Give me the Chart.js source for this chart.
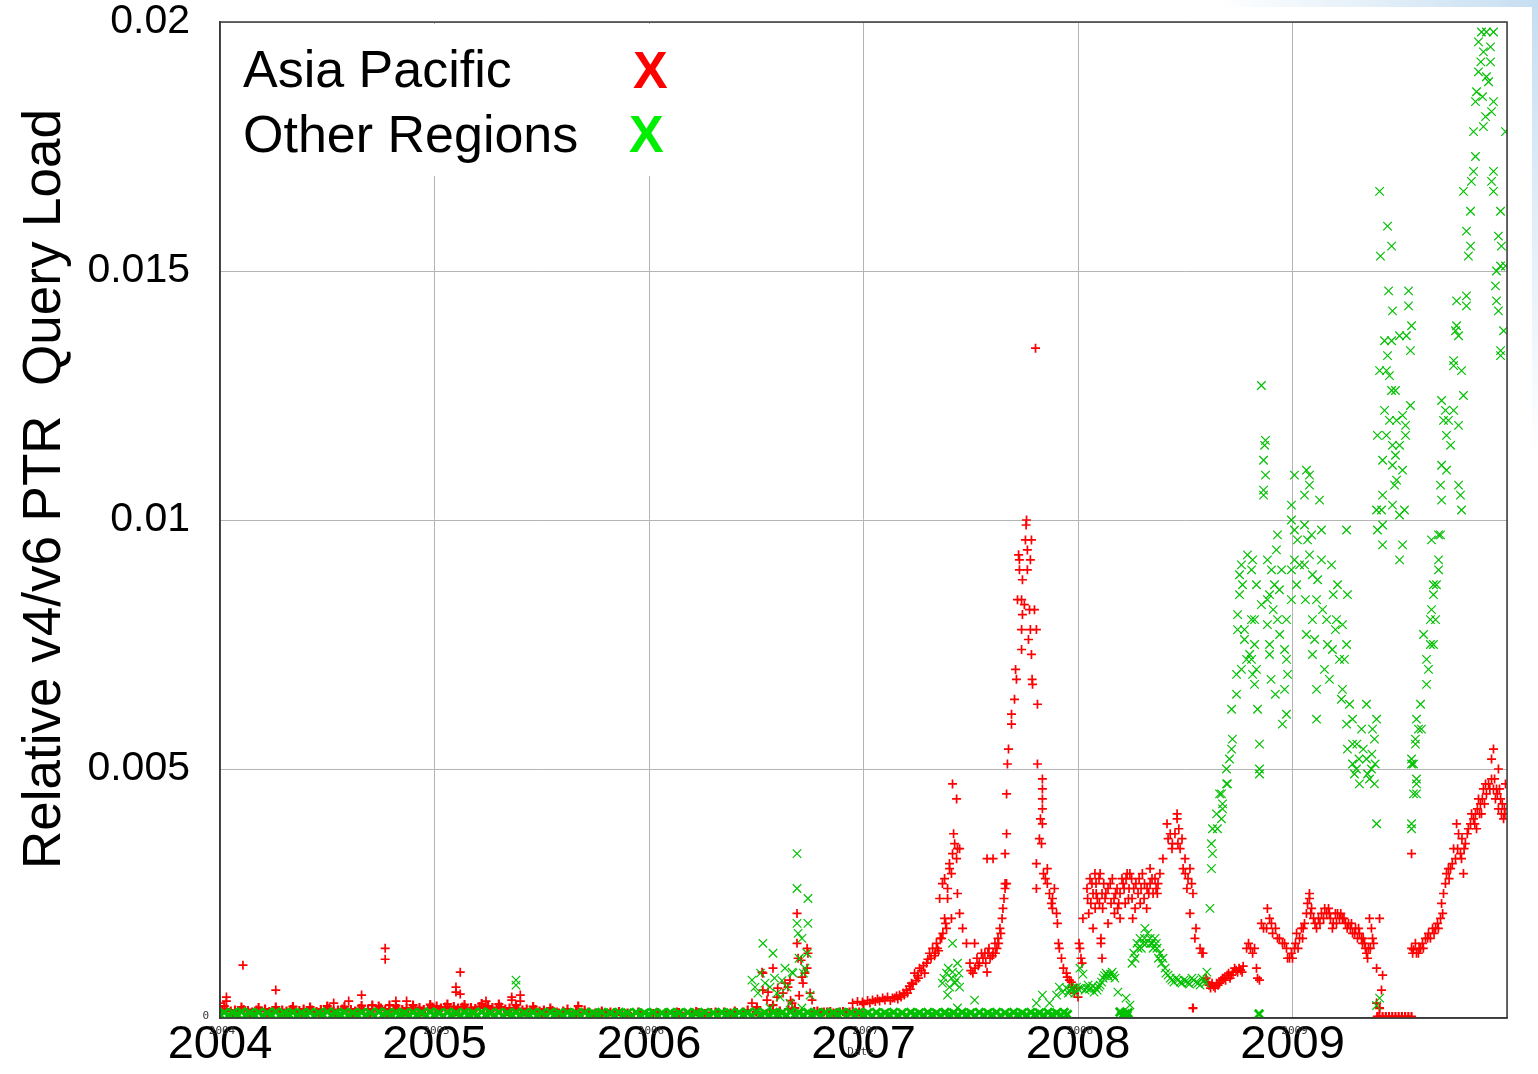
<!DOCTYPE html>
<html>
<head>
<meta charset="utf-8">
<script src="https://cdn.jsdelivr.net/npm/chart.js@4.4.1/dist/chart.umd.min.js"></script>
<style>
html,body{margin:0;padding:0;background:#fff;}
#wrap{position:relative;width:1538px;height:1074px;overflow:hidden;}
#glowTop{position:absolute;top:0;right:0;width:320px;height:7px;background:linear-gradient(to right,rgba(200,224,242,0),#c6def1);}
#glowRight{position:absolute;top:0;right:0;width:6px;height:460px;background:linear-gradient(to bottom,#c6def1,rgba(200,224,242,0));}
canvas{position:absolute;left:0;top:0;}
</style>
</head>
<body>
<div id="wrap"><div id="glowTop"></div><div id="glowRight"></div><canvas id="c" width="1538" height="1074"></canvas></div>
<script>
// ---------- axis ticks ----------
const xTickYears = [2004, 2005, 2006, 2007, 2008, 2009, 2010];
const xTickLabels = ['2004', '2005', '2006', '2007', '2008', '2009', ''];
const yTickValues = [0, 0.005, 0.01, 0.015, 0.02];
const yTickLabels = ['', '0.005', '0.01', '0.015', '0.02'];
const seriesNames = ['Asia Pacific', 'Other Regions'];
const yTitle = 'Relative v4/v6 PTR  Query Load';

// ---------- Asia Pacific  [year, relative load] ----------
const apBase = [
[2004.00,0.0003],[2004.01,0.00015],[2004.03,0.00018],[2004.05,0.00014],[2004.07,0.00016],[2004.09,0.00013],[2004.11,0.00017],[2004.13,0.00015],[2004.15,0.00012],[2004.17,0.00016],
[2004.19,0.00014],[2004.21,0.00018],[2004.23,0.00013],[2004.25,0.00015],[2004.27,0.00012],[2004.29,0.00016],[2004.31,0.00014],[2004.33,0.00017],[2004.35,0.00013],[2004.37,0.00015],
[2004.39,0.00018],[2004.41,0.00014],[2004.43,0.00016],[2004.45,0.00013],[2004.47,0.00017],[2004.49,0.00015],[2004.51,0.00019],[2004.53,0.00014],[2004.55,0.00016],[2004.57,0.00018],
[2004.59,0.00015],[2004.61,0.00017],[2004.63,0.00014],[2004.65,0.00019],[2004.67,0.00016],[2004.69,0.00018],[2004.71,0.00015],[2004.73,0.00017],[2004.75,0.0002],[2004.77,0.00016],
[2004.79,0.00018],[2004.81,0.00015],[2004.83,0.00019],[2004.85,0.00017],[2004.87,0.0002],[2004.89,0.00016],[2004.91,0.00018],[2004.93,0.00021],[2004.95,0.00017],[2004.97,0.00019],
[2004.99,0.00022],[2005.01,0.00024],[2005.03,0.0002],[2005.05,0.00022],[2005.07,0.00019],[2005.09,0.00023],[2005.11,0.0002],[2005.13,0.00022],[2005.15,0.00018],[2005.17,0.00021],
[2005.19,0.00019],[2005.21,0.00023],[2005.23,0.0002],[2005.25,0.00024],[2005.27,0.00021],[2005.29,0.00019],[2005.31,0.00022],[2005.33,0.00018],[2005.35,0.0002],[2005.37,0.00017],
[2005.39,0.00019],[2005.41,0.00016],[2005.43,0.00018],[2005.45,0.00015],[2005.47,0.00017],[2005.49,0.00014],[2005.51,0.00016],[2005.53,0.00013],[2005.55,0.00015],[2005.57,0.00012],
[2005.60,0.00014],[2005.63,0.00011],[2005.66,0.00013],[2005.69,0.0001],[2005.72,0.00012],[2005.75,0.0001],[2005.78,0.00011],[2005.81,0.00009],[2005.84,0.00011],[2005.87,0.00009],
[2005.90,0.0001],[2005.93,0.00008],[2005.96,0.0001],[2005.99,0.00008],[2006.02,0.00009],[2006.05,0.00008],[2006.08,0.0001],[2006.11,0.00009],[2006.14,0.00011],[2006.17,0.00009],
[2006.20,0.0001],[2006.23,0.00011],[2006.26,0.00009],[2006.29,0.00011],[2006.32,0.0001],[2006.35,0.00012],[2006.38,0.0001],[2006.41,0.00011],[2006.44,0.00012]
];
const apBaseSpread = [
[2004.02,0.00024],[2004.06,0.00009],[2004.10,0.00022],[2004.14,0.0001],[2004.18,0.00021],[2004.22,0.00009],[2004.26,0.00022],[2004.30,0.0001],[2004.34,0.00023],[2004.38,0.0001],
[2004.42,0.00022],[2004.46,0.00011],[2004.50,0.00024],[2004.54,0.0001],[2004.58,0.00023],[2004.62,0.00011],[2004.66,0.00025],[2004.70,0.0001],[2004.74,0.00024],[2004.78,0.00011],
[2004.82,0.00025],[2004.86,0.00012],[2004.90,0.00026],[2004.94,0.00012],[2004.98,0.00027],[2005.02,0.00014],[2005.06,0.00028],[2005.10,0.00013],[2005.14,0.00027],[2005.18,0.00014],
[2005.22,0.00029],[2005.26,0.00014],[2005.30,0.00028],[2005.34,0.00013],[2005.38,0.00026],[2005.42,0.00012],[2005.46,0.00023],[2005.50,0.00011],[2005.54,0.0002],[2005.58,0.0001],
[2005.62,0.00018],[2005.66,0.00009],[2005.70,0.00016],[2005.74,0.00008],[2005.78,0.00014],[2005.82,0.00012],[2005.86,0.00013],[2005.95,0.00012],[2006.04,0.00011],[2006.13,0.00012],
[2006.22,0.00013],[2006.31,0.00012],[2006.40,0.00014]
];
const apEarlyOutliers = [
[2004.107,0.00106],[2004.26,0.00056],[2004.03,0.00042],[2004.03,0.00034],[2004.53,0.0003],[2004.60,0.00034],[2004.66,0.00046],[2004.71,0.00026],
[2004.77,0.0014],[2004.77,0.00118],[2004.79,0.00026],[2004.82,0.00034],[2004.87,0.00034],[2005.10,0.00062],[2005.10,0.00052],[2005.12,0.00048],
[2005.12,0.00092],[2005.24,0.00034],[2005.36,0.00042],[2005.36,0.00036],[2005.40,0.00046],[2005.40,0.00034],[2005.67,0.00024]
];
const ap2006 = [
[2006.46,0.00016],[2006.48,0.0003],[2006.50,0.00012],[2006.503,0.00022],[2006.527,0.00092],[2006.531,0.0009],[2006.531,0.00056],[2006.55,0.00036],[2006.555,0.00052],
[2006.564,0.00016],[2006.578,0.001],[2006.578,0.00026],[2006.597,0.00042],[2006.60,0.0006],[2006.61,0.00014],[2006.625,0.0005],[2006.634,0.0007],[2006.648,0.00062],
[2006.65,0.00018],[2006.657,0.00076],[2006.66,0.00035],[2006.667,0.0003],[2006.68,0.0002],[2006.69,0.0021],[2006.69,0.0015],[2006.695,0.0012],[2006.70,0.00045],
[2006.709,0.00116],[2006.713,0.00082],[2006.718,0.0007],[2006.727,0.0009],[2006.737,0.0014],[2006.741,0.0013],[2006.737,0.001],[2006.751,0.0005],[2006.76,0.00036],
[2006.77,0.00013],[2006.80,0.00011],[2006.83,0.00012],[2006.86,0.0001],[2006.89,0.00012],[2006.92,0.00011],[2006.95,0.00013],[2006.98,0.00012],
[2006.785,0.00014],[2006.815,0.00012],[2006.845,0.00013],[2006.875,0.00011],[2006.905,0.00013],[2006.935,0.00012]
];
const ap2007 = [
[2006.949,0.0003],[2006.972,0.00033],[2006.995,0.00032],[2007.019,0.00035],[2007.042,0.00036],[2007.065,0.00038],[2007.089,0.0004],[2007.112,0.00042],[2007.135,0.0004],
[2007.154,0.00044],[2007.168,0.00046],[2007.186,0.0005],[2007.20,0.00056],[2007.214,0.00064],[2007.224,0.0007],[2007.238,0.0009],[2007.252,0.00085],[2007.261,0.001],
[2007.28,0.00105],[2007.294,0.0011],[2007.308,0.0013],[2007.322,0.0014],[2007.331,0.00125],[2007.34,0.0015],[2007.345,0.0014],[2007.364,0.0016],[2007.378,0.002],
[2007.387,0.0018],[2007.41,0.002],[2007.368,0.0027],[2007.392,0.0026],[2007.392,0.0024],[2007.401,0.003],[2007.41,0.0029],[2007.415,0.0033],[2007.415,0.0047],
[2007.434,0.0032],[2007.434,0.0044],[2007.438,0.0034],[2007.438,0.0025],[2007.448,0.0034],[2007.448,0.0021],[2007.462,0.0018],[2007.48,0.0015],[2007.518,0.0015],
[2007.401,0.0031],[2007.425,0.0035],[2007.378,0.0028],[2007.355,0.0024],[2007.42,0.0037],
[2007.0,0.00028],[2007.03,0.0003],[2007.055,0.00033],[2007.075,0.00034],[2007.10,0.00036],[2007.125,0.00035],[2007.145,0.0004],[2007.16,0.00038],[2007.175,0.00042],
[2007.19,0.00046],[2007.205,0.0005],[2007.218,0.00058],[2007.23,0.00068],[2007.245,0.00075],[2007.256,0.0008],[2007.27,0.00095],[2007.285,0.0009],[2007.30,0.00118],
[2007.315,0.0012],[2007.335,0.0013],[2007.35,0.00135],[2007.358,0.0016],[2007.37,0.0017],[2007.383,0.0019],
[2007.496,0.0011],[2007.51,0.0009],[2007.529,0.0012],[2007.54,0.0011],[2007.557,0.0012],[2007.566,0.0013],[2007.576,0.00092],[2007.58,0.0013],[2007.59,0.0012],
[2007.604,0.0013],[2007.613,0.0015],[2007.622,0.0014],[2007.627,0.0016],[2007.636,0.0018],[2007.646,0.002],[2007.65,0.0022],[2007.66,0.0026],[2007.66,0.0027],
[2007.50,0.00095],[2007.52,0.001],[2007.535,0.00105],[2007.55,0.0013],[2007.57,0.0011],[2007.585,0.0014],[2007.60,0.00125],[2007.615,0.0013],[2007.63,0.0015],
[2007.64,0.0017],[2007.655,0.0024],
[2007.576,0.0032],[2007.604,0.0032],[2007.66,0.0033]
];
const apPeak2007 = [
[2007.667,0.0027],[2007.667,0.0037],[2007.667,0.0045],[2007.671,0.0051],[2007.676,0.0054],[2007.69,0.0059],[2007.69,0.0061],[2007.704,0.0064],[2007.709,0.007],
[2007.713,0.0068],[2007.718,0.0084],[2007.723,0.0093],[2007.727,0.009],[2007.727,0.0092],[2007.737,0.0074],[2007.737,0.0078],[2007.737,0.0084],[2007.741,0.0081],
[2007.741,0.0088],[2007.75,0.0083],[2007.755,0.0096],[2007.76,0.01],[2007.758,0.0099],[2007.764,0.009],[2007.764,0.0094],[2007.769,0.0076],[2007.774,0.0082],
[2007.778,0.0078],[2007.778,0.0092],[2007.783,0.0073],[2007.783,0.0096],[2007.788,0.0067],[2007.786,0.0068],[2007.797,0.0082],[2007.802,0.01345],[2007.806,0.0078],
[2007.811,0.0063],[2007.811,0.0051],[2007.82,0.0036],[2007.825,0.004],[2007.83,0.0035],[2007.834,0.0048],[2007.834,0.0046],[2007.834,0.0044],[2007.834,0.0042],
[2007.834,0.0039],[2007.806,0.0031],[2007.806,0.0026],[2007.839,0.0029],[2007.848,0.0028],[2007.857,0.0027],[2007.857,0.003],[2007.867,0.0025],[2007.876,0.0023],
[2007.881,0.0024],[2007.881,0.0022],[2007.89,0.0026],[2007.90,0.0021],[2007.904,0.0019],[2007.909,0.0015],[2007.913,0.0014],[2007.923,0.0012],[2007.932,0.001],
[2007.946,0.0009],[2007.95,0.00082],[2007.96,0.00076],[2007.969,0.00072],[2007.974,0.00062],[2007.983,0.0005],[2007.993,0.0006],[2008.0,0.00042]
];
const ap2008 = [
[2008.005,0.0015],[2008.009,0.0014],[2008.014,0.0012],[2008.023,0.002],[2008.019,0.0011],[2008.042,0.0026],[2008.056,0.0028],[2008.06,0.0023],[2008.07,0.0025],
[2008.07,0.0018],[2008.079,0.0029],[2008.084,0.0027],[2008.09,0.0024],[2008.098,0.0028],[2008.103,0.0029],[2008.107,0.0016],[2008.107,0.0015],[2008.112,0.0025],
[2008.112,0.0012],[2008.12,0.0027],[2008.126,0.0024],[2008.14,0.0026],[2008.14,0.0019],[2008.154,0.0023],[2008.16,0.0028],[2008.168,0.0024],[2008.17,0.0021],
[2008.182,0.0026],[2008.196,0.0025],[2008.196,0.002],[2008.205,0.0028],[2008.21,0.0027],[2008.224,0.0028],[2008.229,0.0029],[2008.238,0.0026],[2008.242,0.0029],
[2008.25,0.0028],[2008.252,0.0024],[2008.266,0.0022],[2008.27,0.0027],[2008.28,0.0025],[2008.294,0.0026],[2008.30,0.0029],[2008.308,0.0024],[2008.322,0.0026],
[2008.336,0.0027],[2008.336,0.003],[2008.35,0.0025],[2008.359,0.0028],[2008.364,0.0026],[2008.373,0.0027],
[2008.045,0.0024],[2008.065,0.0027],[2008.085,0.0025],[2008.10,0.0023],[2008.13,0.0025],[2008.15,0.0027],[2008.175,0.0025],[2008.19,0.0023],[2008.215,0.0026],
[2008.235,0.0024],[2008.26,0.0026],[2008.285,0.0028],[2008.31,0.0027],[2008.33,0.0025],[2008.345,0.0028],[2008.37,0.0025],
[2008.05,0.0021],[2008.115,0.0022],[2008.185,0.0022],[2008.255,0.002],[2008.32,0.0022],[2008.08,0.0022],[2008.22,0.0023],[2008.29,0.0023],
[2008.382,0.0029],[2008.396,0.0032],[2008.415,0.0039],[2008.42,0.0036],[2008.438,0.0034],[2008.44,0.0035],[2008.452,0.0037],[2008.462,0.0041],[2008.462,0.004],
[2008.466,0.0035],[2008.476,0.0034],[2008.485,0.0036],[2008.49,0.003],[2008.499,0.0032],[2008.508,0.0026],[2008.513,0.0028],[2008.522,0.003],[2008.522,0.0021],
[2008.536,0.0025],[2008.536,0.0002],[2008.545,0.0016],[2008.55,0.0018],[2008.569,0.0014],[2008.578,0.0013],[2008.583,0.0013],
[2008.43,0.0037],[2008.47,0.0038],[2008.50,0.0029],[2008.53,0.0027],
[2008.597,0.0008],[2008.611,0.00066],[2008.625,0.0007],[2008.639,0.0006],[2008.653,0.00066],[2008.667,0.00076],[2008.681,0.0008],[2008.695,0.00086],[2008.709,0.0008],
[2008.723,0.00092],[2008.737,0.00096],[2008.751,0.001],[2008.765,0.00092],
[2008.604,0.00072],[2008.618,0.0006],[2008.632,0.00064],[2008.646,0.0007],[2008.66,0.0007],[2008.674,0.0008],[2008.688,0.00076],[2008.702,0.0009],[2008.716,0.00086],
[2008.73,0.001],[2008.744,0.00092],[2008.758,0.00096],[2008.77,0.00104],
[2008.786,0.0014],[2008.795,0.0015],[2008.804,0.0014],[2008.814,0.0013],[2008.823,0.0014],[2008.832,0.001],[2008.837,0.0008],[2008.846,0.00076],[2008.855,0.0019],
[2008.865,0.0018],[2008.879,0.0018],[2008.883,0.0022],[2008.893,0.002],[2008.902,0.0019],[2008.907,0.0017],[2008.921,0.0018],[2008.93,0.0016],[2008.939,0.0016],
[2008.953,0.0015],[2008.963,0.0015],[2008.972,0.0014],[2008.977,0.0012],[2008.986,0.0012],[2008.995,0.0013]
];
const ap2009 = [
[2009.009,0.0014],[2009.019,0.0017],[2009.033,0.0016],[2009.042,0.0018],[2009.047,0.0016],[2009.056,0.0019],[2009.065,0.0021],[2009.079,0.0024],[2009.079,0.0025],
[2009.089,0.0022],[2009.098,0.002],[2009.112,0.0018],[2009.121,0.002],[2009.135,0.0021],[2009.145,0.002],[2009.159,0.0021],[2009.168,0.0022],[2009.177,0.002],
[2009.186,0.0018],[2009.20,0.0021],[2009.21,0.0021],[2009.219,0.002],[2009.233,0.002],[2009.247,0.0019],[2009.261,0.0019],[2009.27,0.0018],[2009.28,0.0017],
[2009.294,0.0018],[2009.303,0.0016],[2009.312,0.0017],[2009.322,0.0016],[2009.326,0.0015],[2009.336,0.0015],[2009.345,0.0013],[2009.354,0.0014],[2009.359,0.002],
[2009.368,0.0018],[2009.373,0.0016],[2009.378,0.0015],[2009.406,0.002],
[2009.0,0.0012],[2009.014,0.0015],[2009.026,0.0014],[2009.05,0.0018],[2009.07,0.0023],[2009.085,0.0021],[2009.105,0.0019],[2009.128,0.0019],[2009.15,0.0022],
[2009.172,0.0021],[2009.19,0.0019],[2009.205,0.0019],[2009.225,0.0021],[2009.24,0.002],[2009.255,0.0018],[2009.275,0.0019],[2009.29,0.0017],[2009.308,0.0018],
[2009.33,0.0016],[2009.34,0.0014],[2009.35,0.0012],[2009.363,0.0014],
[2009.392,0.001],[2009.42,0.00086],[2009.415,0.00056],[2009.392,0.0003],[2009.406,0.0002],
[2009.395,0.00003],[2009.405,0.00003],[2009.42,0.00003],[2009.435,0.00003],[2009.45,0.00003],[2009.465,0.00003],[2009.48,0.00003],[2009.495,0.00003],[2009.51,0.00003],
[2009.525,0.00003],[2009.54,0.00003],[2009.555,0.00003],
[2009.555,0.0033],
[2009.555,0.0014],[2009.564,0.00137],[2009.573,0.0015],[2009.578,0.0013],[2009.587,0.0013],[2009.597,0.0014],[2009.606,0.0015],[2009.62,0.0016],[2009.634,0.0017],
[2009.643,0.0016],[2009.653,0.0018],[2009.667,0.0018],[2009.676,0.0019],[2009.69,0.002],[2009.695,0.0023],
[2009.56,0.0013],[2009.59,0.0014],[2009.61,0.0014],[2009.63,0.0016],[2009.66,0.0017],[2009.68,0.0018],[2009.70,0.0021],
[2009.704,0.0025],[2009.713,0.0027],[2009.718,0.0029],[2009.727,0.003],[2009.737,0.003],[2009.751,0.0034],[2009.76,0.0032],[2009.765,0.0039],[2009.774,0.0037],
[2009.783,0.0033],[2009.788,0.0032],[2009.797,0.0029],[2009.806,0.0035],[2009.82,0.0038],[2009.83,0.0039],[2009.844,0.004],[2009.853,0.0041],[2009.858,0.0038],
[2009.867,0.0044],[2009.872,0.0041],[2009.881,0.0041],[2009.89,0.0046],[2009.895,0.0043],[2009.904,0.0045],[2009.914,0.0047],[2009.928,0.0048],[2009.928,0.0052],
[2009.937,0.0054],[2009.937,0.0046],[2009.946,0.0044],[2009.951,0.0046],[2009.96,0.005],[2009.96,0.0042],[2009.97,0.0044],[2009.974,0.0041],[2009.984,0.004],
[2009.988,0.0042],[2009.993,0.0047],
[2009.73,0.0028],[2009.745,0.0031],[2009.77,0.0034],[2009.79,0.0036],[2009.80,0.0034],[2009.815,0.0037],[2009.835,0.0041],[2009.85,0.0039],[2009.862,0.0042],
[2009.876,0.0043],[2009.885,0.0044],[2009.90,0.0047],[2009.92,0.0046],[2009.942,0.0048],[2009.955,0.0045],[2009.965,0.0046],[2009.978,0.0043],[2009.99,0.0041]
];

// ---------- Other Regions  [year, relative load] ----------
const otBase = [
[2004.00,0.00007],[2004.04,0.00006],[2004.08,0.00008],[2004.12,0.00006],[2004.16,0.00007],[2004.20,0.00005],[2004.24,0.00007],[2004.28,0.00006],[2004.32,0.00008],[2004.36,0.00006],
[2004.40,0.00007],[2004.44,0.00005],[2004.48,0.00007],[2004.52,0.00006],[2004.56,0.00008],[2004.60,0.00006],[2004.64,0.00007],[2004.68,0.00006],[2004.72,0.00005],[2004.76,0.00007],
[2004.80,0.00006],[2004.84,0.00008],[2004.88,0.00006],[2004.92,0.00007],[2004.96,0.00006],[2005.00,0.00007],[2005.04,0.00005],[2005.08,0.00007],[2005.12,0.00006],[2005.16,0.00008],
[2005.20,0.00006],[2005.24,0.00007],[2005.28,0.00006],[2005.32,0.00005],[2005.36,0.00007],[2005.40,0.00006],[2005.44,0.00007],[2005.48,0.00006],[2005.52,0.00005],[2005.56,0.00007],
[2005.60,0.00006],[2005.64,0.00007],[2005.68,0.00005],[2005.72,0.00006],[2005.76,0.00007],[2005.80,0.00005],[2005.84,0.00006],[2005.88,0.00007],[2005.92,0.00005],[2005.96,0.00006],
[2006.00,0.00007],[2006.04,0.00005],[2006.08,0.00006],[2006.12,0.00007],[2006.16,0.00005],[2006.20,0.00006],[2006.24,0.00007],[2006.28,0.00005],[2006.32,0.00006],[2006.36,0.00007],
[2006.40,0.00006],[2006.44,0.00007],[2006.48,0.00005],[2006.52,0.00007],[2006.56,0.00006],[2006.60,0.00008],[2006.64,0.00006],[2006.68,0.00007],[2006.72,0.00006],[2006.76,0.00007],
[2006.80,0.00005],[2006.84,0.00006],[2006.88,0.00007],[2006.92,0.00005],[2006.96,0.00006],[2007.00,0.00007],[2007.04,0.00005],[2007.08,0.00006],[2007.12,0.00007],[2007.16,0.00006],
[2007.20,0.00005],[2007.24,0.00007],[2007.28,0.00006],[2007.32,0.00007],[2007.36,0.00005],[2007.40,0.00007],[2007.44,0.00006],[2007.48,0.00007],[2007.52,0.00005],[2007.56,0.00006],
[2007.60,0.00007],[2007.64,0.00005],[2007.68,0.00006],[2007.72,0.00007],[2007.76,0.00006],[2007.80,0.00007],[2007.84,0.00006],[2007.88,0.00007],[2007.92,0.00006],[2007.95,0.00007]
];
const otBaseSpread = [
[2004.02,0.00011],[2004.06,0.0001],[2004.10,0.00012],[2004.14,0.0001],[2004.18,0.00011],[2004.22,0.0001],[2004.26,0.00012],[2004.30,0.0001],[2004.34,0.00011],[2004.38,0.0001],
[2004.42,0.00011],[2004.46,0.0001],[2004.50,0.00012],[2004.54,0.0001],[2004.58,0.00011],[2004.62,0.0001],[2004.66,0.00011],[2004.70,0.0001],[2004.74,0.00012],[2004.78,0.0001],
[2004.82,0.00011],[2004.86,0.0001],[2004.90,0.00011],[2004.94,0.0001],[2004.98,0.00012],[2005.02,0.0001],[2005.06,0.00011],[2005.10,0.0001],[2005.14,0.00011],[2005.18,0.0001],
[2005.22,0.00012],[2005.26,0.0001],[2005.30,0.00011],[2005.34,0.0001],[2005.38,0.00011],[2005.42,0.0001],[2005.46,0.00011],[2005.50,0.0001],[2005.54,0.00011],[2005.58,0.0001],
[2005.62,0.00011],[2005.66,0.0001],[2005.70,0.00011],[2005.74,0.0001],[2005.78,0.00011],[2005.82,0.0001],[2005.86,0.00011],[2005.90,0.0001],[2005.94,0.00011],[2005.98,0.0001],
[2006.02,0.00011],[2006.06,0.0001],[2006.10,0.00011],[2006.14,0.0001],[2006.18,0.00011],[2006.22,0.0001],[2006.26,0.00011],[2006.30,0.0001],[2006.34,0.00011],[2006.38,0.0001],
[2006.42,0.00011],[2006.46,0.0001],[2006.50,0.00012],[2006.54,0.0001],[2006.58,0.00011],[2006.62,0.0001],[2006.66,0.00012],[2006.70,0.0001],[2006.74,0.00011],[2006.78,0.0001],
[2006.82,0.00011],[2006.86,0.0001],[2006.90,0.00011],[2006.94,0.0001],[2006.98,0.00011],[2007.02,0.0001],[2007.06,0.00011],[2007.10,0.0001],[2007.14,0.00011],[2007.18,0.0001],
[2007.22,0.00011],[2007.26,0.0001],[2007.30,0.00011],[2007.34,0.0001],[2007.38,0.00011],[2007.42,0.0001],[2007.46,0.00011],[2007.50,0.0001],[2007.54,0.00011],[2007.58,0.0001],
[2007.62,0.00011],[2007.66,0.0001],[2007.70,0.00011],[2007.74,0.0001],[2007.78,0.00011],[2007.82,0.0001],[2007.86,0.00011],[2007.90,0.0001],[2007.935,0.00011]
];
const otEarly = [
[2005.38,0.00076],[2005.38,0.00066],
[2006.48,0.00076],[2006.494,0.00062],[2006.508,0.0005],[2006.531,0.0015],[2006.541,0.0007],[2006.564,0.00062],[2006.564,0.0002],[2006.578,0.0013],[2006.597,0.0005],
[2006.611,0.00042],[2006.634,0.001],[2006.643,0.00062],[2006.657,0.0003],[2006.667,0.00092],[2006.671,0.0009],[2006.69,0.0033],[2006.69,0.0026],[2006.741,0.0024],
[2006.69,0.0019],[2006.741,0.0019],[2006.695,0.0017],[2006.713,0.0016],[2006.737,0.0013],[2006.727,0.001],[2006.751,0.00046],[2006.713,0.0002],
[2006.52,0.0009],[2006.585,0.0008],[2006.62,0.00075],[2006.70,0.0012],[2006.72,0.0009],
[2007.368,0.0007],[2007.387,0.0009],[2007.415,0.00092],[2007.438,0.0011],[2007.415,0.0015],[2007.401,0.00062],[2007.392,0.00046],[2007.434,0.00076],[2007.448,0.00062],
[2007.378,0.0001],[2007.518,0.00036],[2007.438,0.0002],[2007.41,0.0008],[2007.375,0.0008],[2007.395,0.001],[2007.425,0.0007],[2007.445,0.0009],
[2007.806,0.0003],[2007.834,0.00046],[2007.867,0.0003],[2007.90,0.00046],[2007.913,0.00062],[2007.928,0.00052],[2007.946,0.0006],[2007.96,0.00056],[2007.974,0.0006],
[2007.993,0.00062],[2008.009,0.001],[2008.023,0.00088],
[2007.955,0.0005],[2007.97,0.00058],[2007.985,0.0005],[2008.0,0.00058],[2008.015,0.0006]
];
const ot2008 = [
[2008.033,0.00056],[2008.047,0.00066],[2008.061,0.0006],[2008.075,0.00052],[2008.089,0.00056],[2008.103,0.00066],[2008.117,0.0008],[2008.131,0.0009],[2008.145,0.00082],
[2008.159,0.00092],[2008.172,0.0008],[2008.186,0.00052],[2008.196,0.00012],[2008.214,0.00006],[2008.233,0.0001],[2008.242,0.00026],[2008.224,0.0004],
[2008.205,0.00005],[2008.22,0.00008],[2008.228,0.00005],
[2008.04,0.0006],[2008.054,0.00058],[2008.068,0.00064],[2008.082,0.0006],[2008.096,0.00062],[2008.11,0.00072],[2008.124,0.00085],[2008.138,0.00086],[2008.152,0.00088],
[2008.166,0.00085],
[2008.252,0.0011],[2008.266,0.0012],[2008.28,0.0014],[2008.289,0.0016],[2008.303,0.0015],[2008.312,0.0018],[2008.317,0.0015],[2008.336,0.0016],[2008.34,0.0015],
[2008.35,0.0014],[2008.359,0.0016],[2008.368,0.0014],[2008.382,0.0013],[2008.396,0.0012],[2008.406,0.001],[2008.42,0.00086],[2008.438,0.00076],[2008.457,0.0008],
[2008.476,0.00072],[2008.494,0.00076],[2008.513,0.0007],[2008.531,0.0008],[2008.55,0.00072],[2008.569,0.00066],[2008.587,0.00076],[2008.601,0.00092],[2008.615,0.0022],
[2008.26,0.0013],[2008.275,0.0015],[2008.295,0.0014],[2008.31,0.0016],[2008.325,0.0017],[2008.345,0.0015],[2008.365,0.0015],[2008.375,0.0012],[2008.39,0.0011],
[2008.41,0.0009],[2008.43,0.0008],[2008.447,0.00072],[2008.466,0.00076],[2008.485,0.0007],[2008.504,0.00074],[2008.52,0.00068],[2008.54,0.00076],[2008.56,0.0007],
[2008.578,0.0008],[2008.593,0.0007],
[2008.844,0.00008],
[2008.622,0.003],[2008.627,0.0033],[2008.622,0.0035],[2008.627,0.0038],[2008.65,0.0038],[2008.669,0.004],[2008.646,0.0041],[2008.674,0.0042],[2008.669,0.0045],
[2008.697,0.0047],[2008.66,0.0045],[2008.674,0.0043],[2008.692,0.0047],[2008.692,0.005],[2008.706,0.0052],[2008.716,0.0054],[2008.72,0.0056],[2008.846,0.0055],
[2008.846,0.005],[2008.846,0.0049],[2008.716,0.0062],[2008.739,0.0065],[2008.739,0.0069],[2008.762,0.007],[2008.786,0.0072],[2008.80,0.0073],[2008.809,0.0072],
[2008.832,0.007],[2008.823,0.0067],[2008.814,0.0069],[2008.837,0.0062],[2008.776,0.0076],[2008.823,0.0075],[2008.744,0.0078],[2008.776,0.0078],[2008.809,0.008],
[2008.823,0.008],[2008.744,0.0081],[2008.753,0.0085],[2008.832,0.0087],[2008.767,0.0087],[2008.753,0.0089],[2008.762,0.0091],[2008.79,0.0093],[2008.809,0.009],
[2008.814,0.0092],
[2008.855,0.0127],[2008.874,0.0116],[2008.870,0.0115],[2008.865,0.0112],[2008.874,0.0109],[2008.865,0.0105],[2008.865,0.0106],
[2008.855,0.0083],[2008.883,0.0084],[2008.893,0.0085],[2008.916,0.0087],[2008.925,0.0094],[2008.93,0.0097],[2008.883,0.0092],[2008.902,0.009],[2008.949,0.009],
[2008.939,0.0086],[2008.93,0.008],[2008.972,0.008],[2008.883,0.0079],[2008.893,0.0075],[2008.893,0.0073],[2008.963,0.0074],[2008.972,0.0072],[2008.977,0.0069],
[2008.963,0.0066],[2008.953,0.0059],[2008.972,0.0061],[2008.995,0.0084],[2008.995,0.009],[2008.90,0.0068],[2008.92,0.0065],[2008.94,0.0077],[2008.91,0.0082]
];
const ot2009 = [
[2009.019,0.0087],[2009.009,0.0092],[2009.033,0.0091],[2009.023,0.0096],[2008.995,0.01],[2009.009,0.0098],[2008.995,0.0103],[2009.009,0.0109],[2009.056,0.0105],
[2009.065,0.011],[2009.079,0.0109],[2009.079,0.0107],[2009.126,0.0104],[2009.056,0.0099],[2009.089,0.0097],[2009.07,0.0096],[2009.056,0.0091],[2009.135,0.0098],
[2009.252,0.0098],[2009.079,0.0093],[2009.135,0.0092],[2009.093,0.0089],[2009.117,0.0088],[2009.182,0.0091],[2009.112,0.0084],[2009.065,0.0077],[2009.103,0.0076],
[2009.093,0.008],[2009.14,0.0082],[2009.159,0.008],[2009.21,0.0087],[2009.256,0.0085],[2009.205,0.008],[2009.233,0.0079],[2009.163,0.0075],[2009.186,0.0074],
[2009.219,0.0072],[2009.242,0.0072],[2009.252,0.0075],[2009.093,0.0073],[2009.149,0.007],[2009.172,0.0068],[2009.112,0.0066],[2009.112,0.006],[2009.233,0.0066],
[2009.228,0.0064],[2009.266,0.0063],[2009.252,0.0059],[2009.28,0.006],[2009.345,0.0063],[2009.322,0.0058],[2009.373,0.0058],[2009.382,0.0056],[2009.392,0.006],
[2009.28,0.0055],[2009.256,0.0054],[2009.28,0.0051],[2009.298,0.005],[2009.345,0.0052],[2009.368,0.005],[2009.359,0.0048],[2009.382,0.0047],[2009.312,0.0047],
[2009.289,0.0049],[2009.19,0.0085],[2009.20,0.0078],[2009.06,0.0084],[2009.30,0.0055],[2009.33,0.0054],[2009.35,0.0049],[2009.37,0.0053],[2009.31,0.0052],
[2009.385,0.0051],
[2009.392,0.0039],[2009.406,0.0004],[2009.392,0.00025]
];
const ot2009High = [
[2009.406,0.0166],[2009.443,0.0159],[2009.462,0.0155],[2009.41,0.0153],[2009.448,0.0146],[2009.466,0.0142],[2009.541,0.0146],[2009.541,0.0143],[2009.555,0.0139],
[2009.531,0.0137],[2009.499,0.0137],[2009.429,0.0136],[2009.462,0.0136],[2009.443,0.0133],[2009.55,0.0134],[2009.406,0.013],[2009.438,0.013],[2009.452,0.0129],
[2009.462,0.0126],[2009.48,0.0126],[2009.429,0.0122],[2009.452,0.012],[2009.485,0.012],[2009.513,0.0121],[2009.527,0.0119],[2009.55,0.0123],[2009.396,0.0117],
[2009.438,0.0117],[2009.466,0.0115],[2009.499,0.0115],[2009.527,0.0117],[2009.42,0.0112],[2009.466,0.0111],[2009.513,0.011],[2009.485,0.0108],[2009.476,0.0107],
[2009.415,0.0102],[2009.466,0.0103],[2009.499,0.0101],[2009.522,0.0102],[2009.42,0.0099],[2009.396,0.0098],[2009.392,0.0102],[2009.42,0.0095],[2009.499,0.0092],
[2009.513,0.0095],[2009.42,0.0105],[2009.48,0.0113],
[2009.555,0.0039],[2009.564,0.0045],[2009.578,0.0045],[2009.578,0.0048],[2009.564,0.0051],[2009.555,0.0052],[2009.573,0.0056],[2009.587,0.0058],[2009.601,0.0058],
[2009.578,0.006],[2009.597,0.0063],[2009.625,0.0067],[2009.634,0.007],[2009.625,0.0072],[2009.657,0.0075],[2009.643,0.0075],[2009.611,0.0077],[2009.667,0.008],
[2009.643,0.008],[2009.648,0.0082],[2009.657,0.0085],[2009.671,0.0087],[2009.657,0.0087],[2009.681,0.009],[2009.681,0.0092],[2009.648,0.0096],[2009.69,0.0097],
[2009.573,0.0055],[2009.555,0.0051],[2009.578,0.0047],[2009.555,0.0038],
[2009.695,0.0124],[2009.713,0.0122],[2009.751,0.0122],[2009.704,0.012],[2009.727,0.012],[2009.774,0.0119],[2009.718,0.0117],[2009.737,0.0115],[2009.695,0.0111],
[2009.718,0.011],[2009.69,0.0107],[2009.774,0.0107],[2009.783,0.0105],[2009.695,0.0104],[2009.788,0.0102],[2009.681,0.0097],[2009.751,0.0132],[2009.788,0.013],
[2009.751,0.0131],[2009.765,0.0139],[2009.774,0.0137],[2009.76,0.0138],[2009.797,0.0125],[2009.811,0.0145],[2009.811,0.0143],[2009.765,0.0144],[2009.811,0.0158],
[2009.83,0.0162],[2009.83,0.0155],[2009.82,0.0153],[2009.797,0.0166],[2009.834,0.0168],[2009.844,0.017],[2009.853,0.0173],[2009.844,0.0178],[2009.853,0.0184],
[2009.89,0.0179],[2009.928,0.0182],[2009.937,0.0184],[2009.90,0.0181],[2009.858,0.0186],[2009.914,0.0188],[2009.867,0.019],[2009.904,0.0189],[2009.923,0.0192],
[2009.89,0.0194],[2009.867,0.0196],[2009.923,0.0195],[2009.881,0.0198],[2009.904,0.0198],[2009.937,0.0198],[2009.993,0.0178],[2009.937,0.017],[2009.928,0.0168],
[2009.937,0.0166],[2009.97,0.0162],[2009.96,0.0157],[2009.974,0.0155],[2009.97,0.0151],[2009.951,0.015],[2009.946,0.0147],[2009.951,0.0144],[2009.96,0.0142],
[2009.984,0.0138],[2009.97,0.0134],[2009.97,0.0133],[2009.993,0.0151],[2009.878,0.0192],[2009.886,0.0185]
];

const asiaPacific = [].concat(apBase, apBaseSpread, apEarlyOutliers, ap2006, ap2007, apPeak2007, ap2008, ap2009);
const otherRegions = [].concat(otBase, otBaseSpread, otEarly, ot2008, ot2009, ot2009High);
const toXY = arr => arr.map(p => ({x: p[0], y: p[1]}));

const FONT = '"Liberation Sans", Arial, Helvetica, sans-serif';

const decor = {
  id: 'decor',
  afterDraw(chart) {
    const ctx = chart.ctx, a = chart.chartArea;
    const xs = chart.scales.x;
    ctx.save();
    // legend box (covers grid lines)
    ctx.fillStyle = '#ffffff';
    ctx.fillRect(a.left + 2, a.top + 2, 470, 152);
    ctx.fillStyle = '#000';
    ctx.textAlign = 'left';
    ctx.textBaseline = 'alphabetic';
    ctx.font = '52px ' + FONT;
    ctx.fillText(seriesNames[0], a.left + 23, a.top + 65);
    ctx.fillText(seriesNames[1], a.left + 23, a.top + 130);
    ctx.font = 'bold 52px ' + FONT;
    ctx.fillStyle = '#ff0000';
    ctx.fillText('X', a.left + 413, a.top + 66);
    ctx.fillStyle = '#00ee00';
    ctx.fillText('X', a.left + 409, a.top + 130);
    // y axis title
    ctx.fillStyle = '#000';
    ctx.font = '53px ' + FONT;
    ctx.translate(45, 489);
    ctx.rotate(-Math.PI / 2);
    ctx.textAlign = 'center';
    ctx.textBaseline = 'middle';
    ctx.fillText(yTitle, 0, 0);
    ctx.restore();
    // small original axis labels underneath
    ctx.save();
    ctx.fillStyle = '#333';
    ctx.font = '11px "DejaVu Sans Mono", monospace';
    ctx.textAlign = 'center';
    ctx.textBaseline = 'middle';
    for (let i = 0; i < xTickLabels.length; i++) {
      if (!xTickLabels[i]) continue;
      ctx.fillText(xTickLabels[i], xs.getPixelForValue(xTickYears[i]) + 2, a.bottom + 13);
    }
    ctx.fillText('Date', (a.left + a.right) / 2 - 3, a.bottom + 34);
    ctx.textAlign = 'right';
    ctx.fillText('0', a.left - 11, a.bottom - 2);
    // frame
    ctx.strokeStyle = '#3a3a3a';
    ctx.lineWidth = 1.5;
    ctx.strokeRect(a.left, a.top, a.right - a.left, a.bottom - a.top);
    ctx.restore();
  }
};

// dense near-zero runs are drawn with heavier strokes, as in the original plot
const redWidth = c => (c.raw && c.raw.y < 0.0003) ? 2.2 : 1.7;
const greenWidth = c => (c.raw && c.raw.y < 0.00013) ? 2.8 : 1.2;

new Chart(document.getElementById('c'), {
  type: 'scatter',
  data: {
    datasets: [
      {label: seriesNames[0], data: toXY(asiaPacific), pointStyle: 'cross', pointRadius: 4.5,
       borderColor: '#ff0000', backgroundColor: '#ff0000', pointBorderWidth: redWidth, order: 2},
      {label: seriesNames[1], data: toXY(otherRegions), pointStyle: 'crossRot', pointRadius: 6,
       borderColor: '#00c000', backgroundColor: '#00c000', pointBorderWidth: greenWidth, order: 1}
    ]
  },
  options: {
    responsive: false,
    animation: false,
    events: [],
    layout: {padding: {top: 22, right: 31, left: 0, bottom: 0}},
    plugins: {legend: {display: false}, tooltip: {enabled: false}},
    scales: {
      x: {
        type: 'linear', min: 2004, max: 2010,
        afterFit(s) { s.height = 56; s.paddingLeft = 0; s.paddingRight = 0; },
        afterBuildTicks(s) { s.ticks = xTickYears.map(v => ({value: v})); },
        ticks: {
          callback: (v, i) => xTickLabels[i],
          font: {family: FONT, size: 47, lineHeight: 1},
          color: '#000', padding: 4, maxRotation: 0, autoSkip: false
        },
        grid: {color: '#b4b4b4', lineWidth: 1, drawTicks: false},
        border: {color: '#3a3a3a', width: 1.5}
      },
      y: {
        min: 0, max: 0.02,
        afterFit(s) { s.width = 220; s.paddingTop = 0; s.paddingBottom = 0; },
        afterBuildTicks(s) { s.ticks = yTickValues.map(v => ({value: v})); },
        ticks: {
          callback: (v, i) => yTickLabels[i],
          font: {family: FONT, size: 41, lineHeight: 1},
          color: '#000', padding: 30
        },
        grid: {color: '#b4b4b4', lineWidth: 1, drawTicks: false},
        border: {color: '#3a3a3a', width: 1.5}
      }
    }
  },
  plugins: [decor]
});
</script>
</body>
</html>
